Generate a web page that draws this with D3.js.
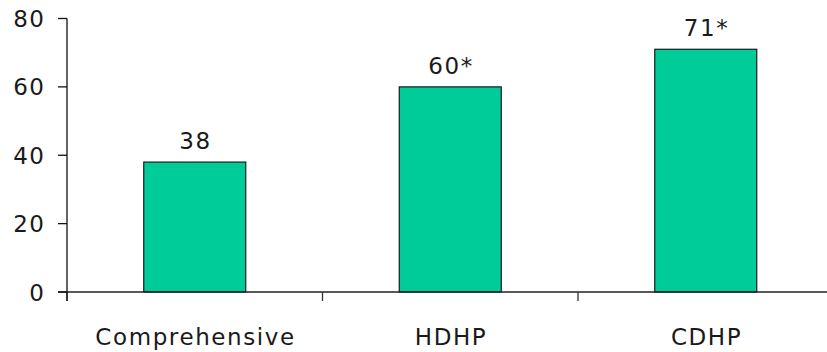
<!DOCTYPE html>
<html><head><meta charset="utf-8">
<script src="https://cdn.jsdelivr.net/npm/d3@7"></script>
<style>body{margin:0;background:#fff;} text{font-family:"DejaVu Sans",Verdana,sans-serif;}</style>
</head><body>
<svg id="c" width="827" height="352"></svg>
<script>
const categories = ["Comprehensive", "HDHP", "CDHP"];
const values = [38, 60, 71];
const valueLabels = ["38", "60*", "71*"];
const yTicks = [0, 20, 40, 60, 80];

const svg = d3.select("#c");
const x0 = 67, yBase = 292;
const x = d3.scaleBand().domain(categories).range([x0, x0 + 255.5 * 3]).paddingInner(0).paddingOuter(0);
const y = d3.scaleLinear().domain([0, 80]).range([yBase, 18.5]);
const barW = 102;
const fs = 23, ls = 1.6;

// bars
svg.selectAll("rect.bar").data(values).enter().append("rect")
  .attr("x", (d,i) => x(categories[i]) + x.bandwidth()/2 - barW/2)
  .attr("y", d => y(d))
  .attr("width", barW)
  .attr("height", d => yBase - y(d))
  .attr("fill", "#00CC99")
  .attr("stroke", "#1a1a1a")
  .attr("stroke-width", 1.2);

// value labels
svg.selectAll("text.val").data(values).enter().append("text")
  .attr("x", (d,i) => x(categories[i]) + x.bandwidth()/2 + ls/2)
  .attr("y", d => y(d) - 13)
  .attr("text-anchor", "middle")
  .attr("font-size", fs).attr("letter-spacing", ls)
  .attr("fill", "#1a1a1a")
  .text((d,i) => valueLabels[i]);

// x axis line
svg.append("line").attr("x1", 58).attr("x2", 827).attr("y1", yBase).attr("y2", yBase)
  .attr("stroke", "#222").attr("stroke-width", 1.3);
// x ticks (band boundaries)
const bounds = categories.map(c => x(c));
svg.selectAll("line.xt").data(bounds).enter().append("line")
  .attr("x1", d => d).attr("x2", d => d).attr("y1", yBase).attr("y2", yBase + 9)
  .attr("stroke", "#333").attr("stroke-width", 1.3);
// x labels
svg.selectAll("text.xl").data(categories).enter().append("text")
  .attr("x", d => x(d) + x.bandwidth()/2 + ls/2)
  .attr("y", 345)
  .attr("text-anchor", "middle")
  .attr("font-size", fs).attr("letter-spacing", ls)
  .attr("fill", "#1a1a1a")
  .text(d => d);

// y axis
svg.append("line").attr("x1", x0).attr("x2", x0).attr("y1", y(80)).attr("y2", yBase + 9)
  .attr("stroke", "#111").attr("stroke-width", 1.3);
svg.selectAll("line.yt").data(yTicks).enter().append("line")
  .attr("x1", 58).attr("x2", x0).attr("y1", d => y(d)).attr("y2", d => y(d))
  .attr("stroke", "#111").attr("stroke-width", 1.3);
svg.selectAll("text.yl").data(yTicks).enter().append("text")
  .attr("x", 44 + ls)
  .attr("y", d => y(d) + 8.5)
  .attr("text-anchor", "end")
  .attr("font-size", fs).attr("letter-spacing", ls)
  .attr("fill", "#1a1a1a")
  .text(d => d);
</script>
</body></html>
